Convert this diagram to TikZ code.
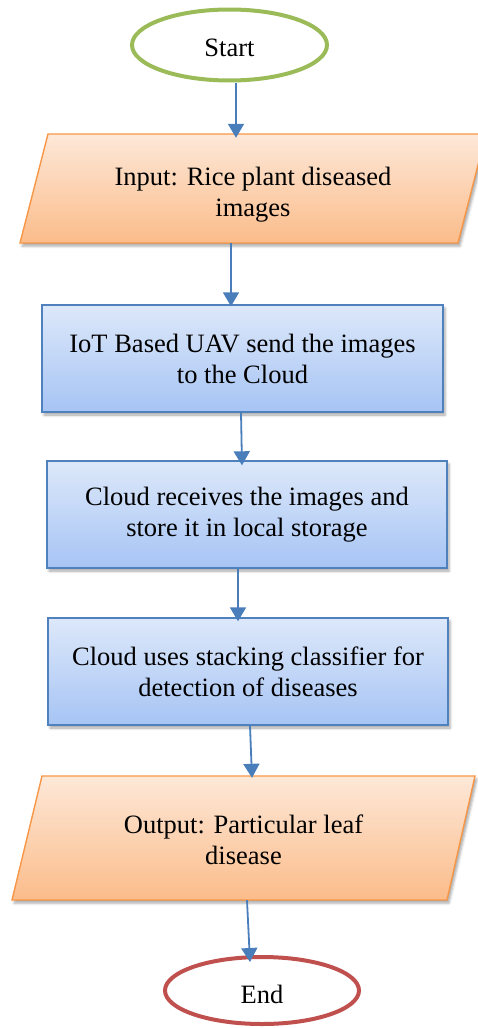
\documentclass[tikz,border=0pt]{standalone}
\usepackage{fontspec}
\setmainfont{Liberation Serif}
\usetikzlibrary{shapes.geometric,arrows.meta,shadows.blur}
\definecolor{boxline}{HTML}{4F81BD}
\definecolor{boxtop}{HTML}{DDE8FA}
\definecolor{boxbot}{HTML}{A6C4F4}
\definecolor{ioline}{HTML}{F79646}
\definecolor{iotop}{HTML}{FDE8D8}
\definecolor{iobot}{HTML}{FBBC8A}
\definecolor{startline}{HTML}{9BBB59}
\definecolor{endline}{HTML}{C0504D}
\definecolor{arrowcol}{HTML}{4A7EBB}
\tikzset{
  txt/.style={font=\fontsize{26.5}{31}\selectfont, align=center, text=black},
  terminal/.style={txt, ellipse, draw, line width=4pt, fill=white, inner sep=0pt},
  procbox/.style={txt, rectangle, draw=boxline, line width=1.4pt, top color=boxtop, bottom color=boxbot,
     blur shadow={shadow xshift=2pt, shadow yshift=-3pt, shadow blur radius=2.5pt, shadow opacity=35}},
  iofill/.style={draw=ioline, line width=1.4pt, top color=iotop, bottom color=iobot,
     blur shadow={shadow xshift=2pt, shadow yshift=-3pt, shadow blur radius=2.5pt, shadow opacity=35}},
  iotext/.style={txt, inner sep=0pt},
  flow/.style={draw=arrowcol, line width=1.8pt, -{Triangle[width=16pt,length=14pt]}}
}
\begin{document}
\begin{tikzpicture}[x=1pt,y=-1pt]
\useasboundingbox (0,0) rectangle (477,1028);
% start
\node[terminal, draw=startline, minimum width=195pt, minimum height=71pt,
  label={[txt,yshift=-3pt]center:Start}] (start) at (229.5,45) {};
% input parallelogram
\path[iofill] (20,243) -- (458,243) -- (486,134) -- (48,134) -- cycle;
\node[iotext, minimum width=438pt, minimum height=109pt,
  label={[iotext,yshift=-6pt]center:{Input: Rice plant diseased\\images}}] (input) at (253,188.5) {};
% process boxes
\node[procbox, minimum width=401pt, minimum height=107pt] (b1) at (242.5,358.5) {IoT Based UAV send the images\\to the Cloud};
\node[procbox, minimum width=400pt, minimum height=107pt] (b2) at (247,514.5) {Cloud receives the images and\\store it in local storage};
\node[procbox, minimum width=400pt, minimum height=107pt] (b3) at (248,671.5) {Cloud uses stacking classifier for\\detection of diseases};
% output parallelogram
\path[iofill] (12,900) -- (447,900) -- (475,776) -- (42,776) -- cycle;
\node[iotext, minimum width=435pt, minimum height=124pt,
  label={[iotext,yshift=-2pt]center:{Output: Particular leaf\\disease}}] (output) at (243.5,838) {};
% end
\node[terminal, draw=endline, minimum width=194pt, minimum height=67pt,
  label={[txt,yshift=-4pt]center:End}] (end) at (262,990.5) {};
% connectors
\draw[flow] ([xshift=6.5pt]start.south) -- ([xshift=-17pt,yshift=-4pt]input.north);
\draw[flow] ([xshift=-22pt]input.south) -- ([xshift=-11.5pt,yshift=-2pt]b1.north);
\draw[flow] ([xshift=-1.5pt]b1.south) -- ([xshift=-5pt,yshift=-5pt]b2.north);
\draw[flow] ([xshift=-9pt]b2.south) -- ([xshift=-10pt,yshift=-4pt]b3.north);
\draw[flow] ([xshift=2pt]b3.south) -- ([xshift=8.5pt,yshift=-2pt]output.north);
\draw[flow] ([xshift=3.5pt]output.south) -- ([xshift=-12pt,yshift=-7pt]end.north);
\end{tikzpicture}
\end{document}
